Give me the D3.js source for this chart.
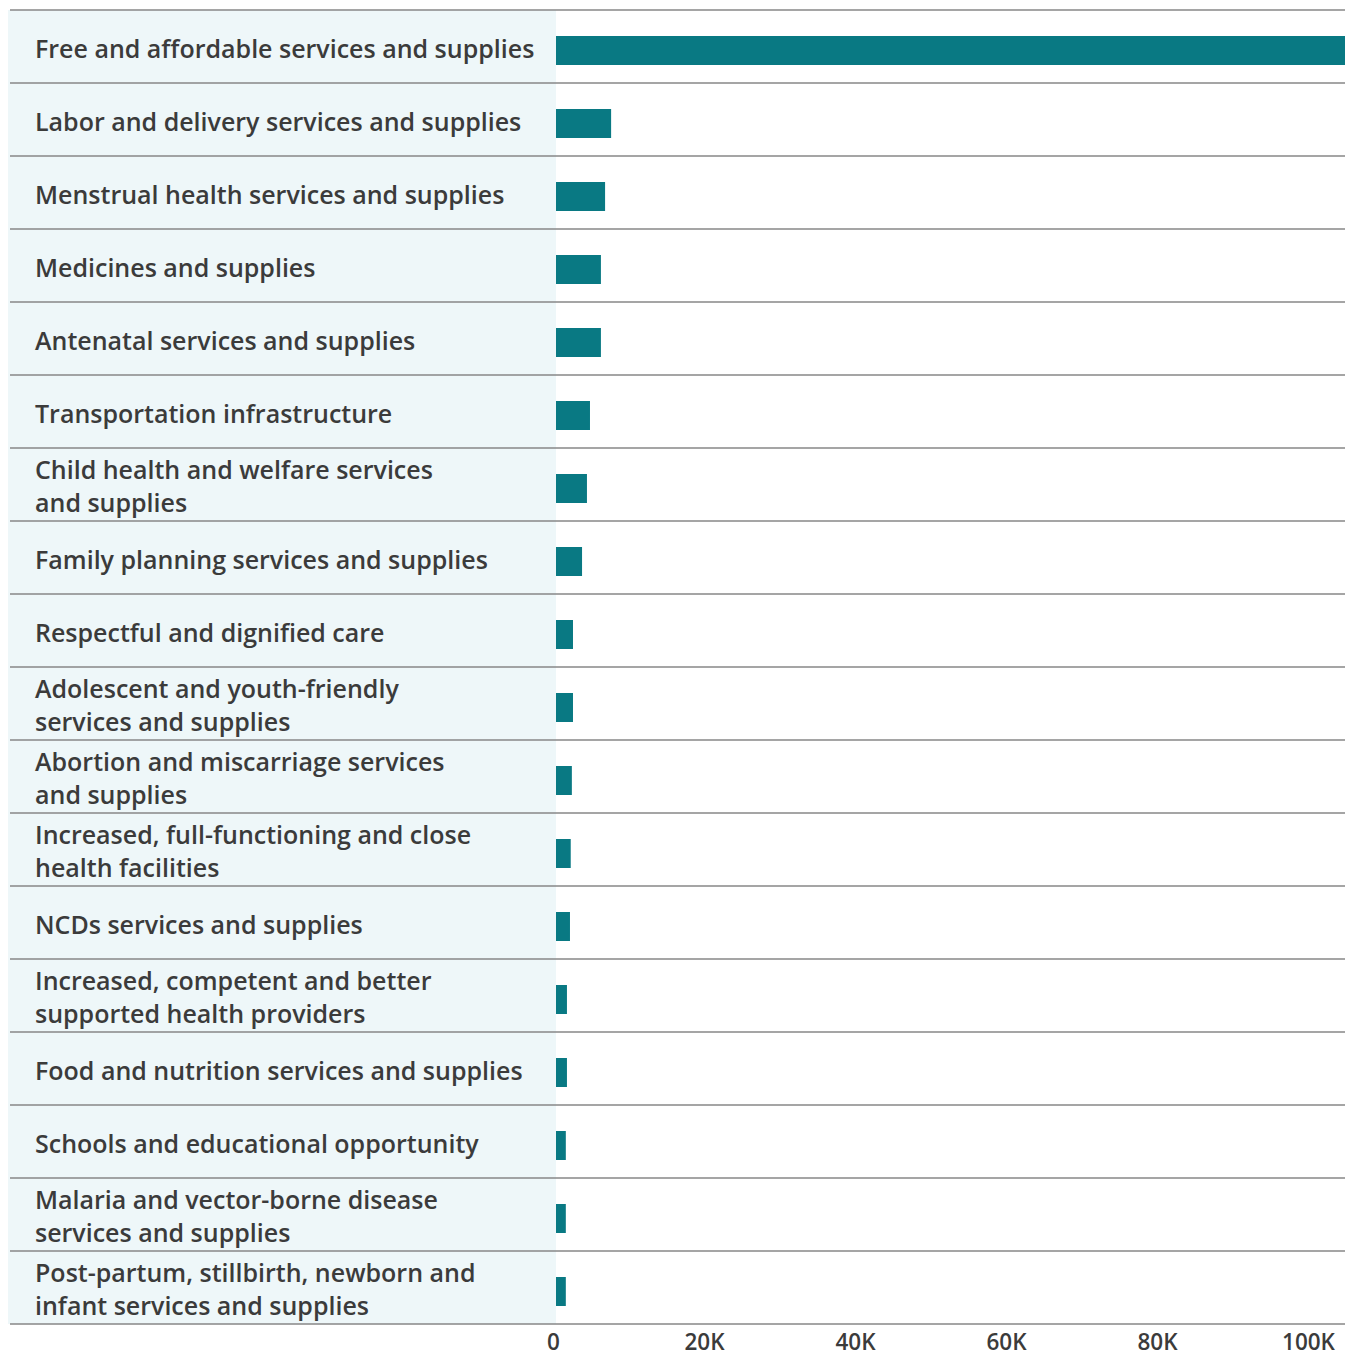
<!DOCTYPE html>
<html>
<head>
<meta charset="utf-8">
<script src="https://cdn.jsdelivr.net/npm/d3@7"></script>
<style>
  body { margin: 0; background: #fff; }
  svg { display: block; }
</style>
</head>
<body>
<script>
// Categories (line breaks as in the original)
const categories = [
  "Free and affordable services and supplies",
  "Labor and delivery services and supplies",
  "Menstrual health services and supplies",
  "Medicines and supplies",
  "Antenatal services and supplies",
  "Transportation infrastructure",
  "Child health and welfare services\nand supplies",
  "Family planning services and supplies",
  "Respectful and dignified care",
  "Adolescent and youth-friendly\nservices and supplies",
  "Abortion and miscarriage services\nand supplies",
  "Increased, full-functioning and close\nhealth facilities",
  "NCDs services and supplies",
  "Increased, competent and better\nsupported health providers",
  "Food and nutrition services and supplies",
  "Schools and educational opportunity",
  "Malaria and vector-borne disease\nservices and supplies",
  "Post-partum, stillbirth, newborn and\ninfant services and supplies"
];

// Number of responses
const values = [
  105000, 7300, 6500, 5950, 5950, 4500, 4100, 3450, 2250,
  2250, 2100, 1950, 1850, 1450, 1450, 1300, 1300, 1300
];

const tickValues = [0, 20000, 40000, 60000, 80000, 100000];

const data = categories.map((c, i) => ({ label: c, value: values[i] }));

// Layout
const W = 1345, H = 1357;
const marginLeft = 10, labelW = 546, marginTop = 10, rowH = 73;
const plotLeft = marginLeft + labelW;
const plotBottom = marginTop + rowH * data.length;
const font = "'Open Sans', sans-serif";

const svg = d3.select("body").append("svg")
  .attr("width", W)
  .attr("height", H);

// Scales
const y = d3.scaleBand()
  .domain(d3.range(data.length))
  .range([marginTop, plotBottom]);

const x = d3.scaleLinear()
  .domain([0, 100000])
  .range([plotLeft, 1311]);

// Label column background
svg.append("rect")
  .attr("x", marginLeft - 2)
  .attr("y", marginTop)
  .attr("width", labelW + 2)
  .attr("height", plotBottom - marginTop)
  .attr("fill", "#eef7f9");

// Bars
svg.append("g")
  .selectAll("rect")
  .data(data)
  .join("rect")
  .attr("x", x(0))
  .attr("y", (d, i) => y(i) + y.bandwidth() / 2 - 10.5)
  .attr("width", d => x(d.value) - x(0))
  .attr("height", 29)
  .attr("fill", "#097983");

// Row separator lines
svg.append("g")
  .selectAll("line")
  .data(d3.range(data.length + 1))
  .join("line")
  .attr("x1", marginLeft)
  .attr("x2", W)
  .attr("y1", i => marginTop + i * rowH)
  .attr("y2", i => marginTop + i * rowH)
  .attr("stroke", "#878787")
  .attr("stroke-width", 1.6);

// Category labels
const labels = svg.append("g")
  .selectAll("text")
  .data(data)
  .join("text")
  .attr("x", 35)
  .attr("fill", "#3b3b3b")
  .style("font-family", font)
  .style("font-weight", 600)
  .style("font-size", "25px");

labels.each(function (d, i) {
  const lines = d.label.split("\n");
  const cy = y(i) + y.bandwidth() / 2;
  const lh = 33;
  const first = cy - (lines.length - 1) * lh / 2 + 11;
  d3.select(this).selectAll("tspan")
    .data(lines)
    .join("tspan")
    .attr("x", 35)
    .attr("y", (l, k) => first + k * lh)
    .text(l => l);
});

// X axis
const xAxis = d3.axisBottom(x)
  .tickValues(tickValues)
  .tickSize(0)
  .tickPadding(0)
  .tickFormat(d => d === 0 ? "0" : d / 1000 + "K");

const gx = svg.append("g")
  .attr("transform", "translate(-3,0)")
  .call(xAxis);

gx.select(".domain").remove();
gx.selectAll("text")
  .attr("y", 1350)
  .attr("dy", null)
  .attr("fill", "#3b3b3b")
  .style("font-family", font)
  .style("font-weight", 600)
  .style("font-size", "22.5px");
</script>
</body>
</html>
